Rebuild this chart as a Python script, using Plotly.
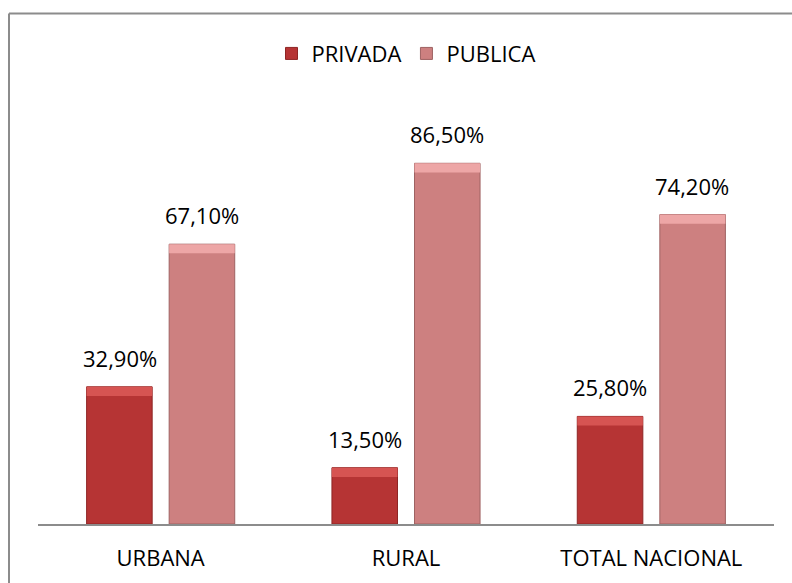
import plotly.graph_objects as go

categories = ["URBANA", "RURAL", "TOTAL NACIONAL"]
privada = [32.9, 13.5, 25.8]
publica = [67.1, 86.5, 74.2]
series_names = ["PRIVADA", "PUBLICA"]

FONT = "Open Sans"
BEVEL = 2.2  # bevel band height in axis units

def fmt(v):
    return f"{v:.2f}".replace(".", ",") + "%"

fig = go.Figure()
specs = [
    (series_names[0], privada, "#B63434", "#D65452", "#8E2524", "g0", -41),
    (series_names[1], publica, "#CD8080", "#EDA6A6", "#9E6262", "g1", 41),
]
for name, vals, col, bev, edge, og, _ in specs:
    fig.add_trace(go.Bar(
        x=categories, y=vals, name=name, offsetgroup=og,
        marker=dict(color=col, line=dict(color=edge, width=1)),
        hoverinfo="skip",
    ))
for name, vals, col, bev, edge, og, _ in specs:
    fig.add_trace(go.Bar(
        x=categories, y=[BEVEL] * len(vals), base=[v - BEVEL for v in vals],
        offsetgroup=og, showlegend=False,
        marker=dict(color=bev, line=dict(width=0)),
        hoverinfo="skip",
    ))

annotations = []
for name, vals, col, bev, edge, og, dx in specs:
    for c, v in zip(categories, vals):
        annotations.append(dict(
            x=c, y=v, text=fmt(v), showarrow=False, xshift=dx, yshift=12,
            yanchor="bottom", font=dict(family=FONT, size=22, color="#000000"),
        ))

fig.update_layout(
    width=792, height=583,
    margin=dict(l=38, r=18, t=107, b=59),
    paper_bgcolor="white", plot_bgcolor="white",
    barmode="group", bargap=0.327, bargroupgap=0.206,
    font=dict(family=FONT, size=22, color="#000000"),
    showlegend=True,
    legend=dict(orientation="h", x=0.5, xanchor="center", y=1.128, yanchor="middle",
                font=dict(family=FONT, size=22), bgcolor="rgba(0,0,0,0)",
                traceorder="normal"),
    xaxis=dict(showline=True, linecolor="#8C8C8C", linewidth=2, ticks="",
               tickfont=dict(family=FONT, size=22, color="#000000"),
               ticklabelstandoff=14,
               showgrid=False, zeroline=False, fixedrange=True),
    yaxis=dict(range=[0, 100], visible=False, showgrid=False, zeroline=False,
               fixedrange=True),
    annotations=annotations,
    shapes=[
        dict(type="line", xref="paper", yref="paper", x0=-0.0394, x1=1.1,
             y0=1.2245, y1=1.2245, line=dict(color="#8C8C8C", width=2)),
        dict(type="line", xref="paper", yref="paper", x0=-0.0394, x1=-0.0394,
             y0=1.2245, y1=-0.3, line=dict(color="#8C8C8C", width=2)),
    ],
)

fig.write_html(
    "out.html",
    config={"displayModeBar": False},
    post_script="document.body.style.margin='0';document.body.style.overflow='hidden';",
)
